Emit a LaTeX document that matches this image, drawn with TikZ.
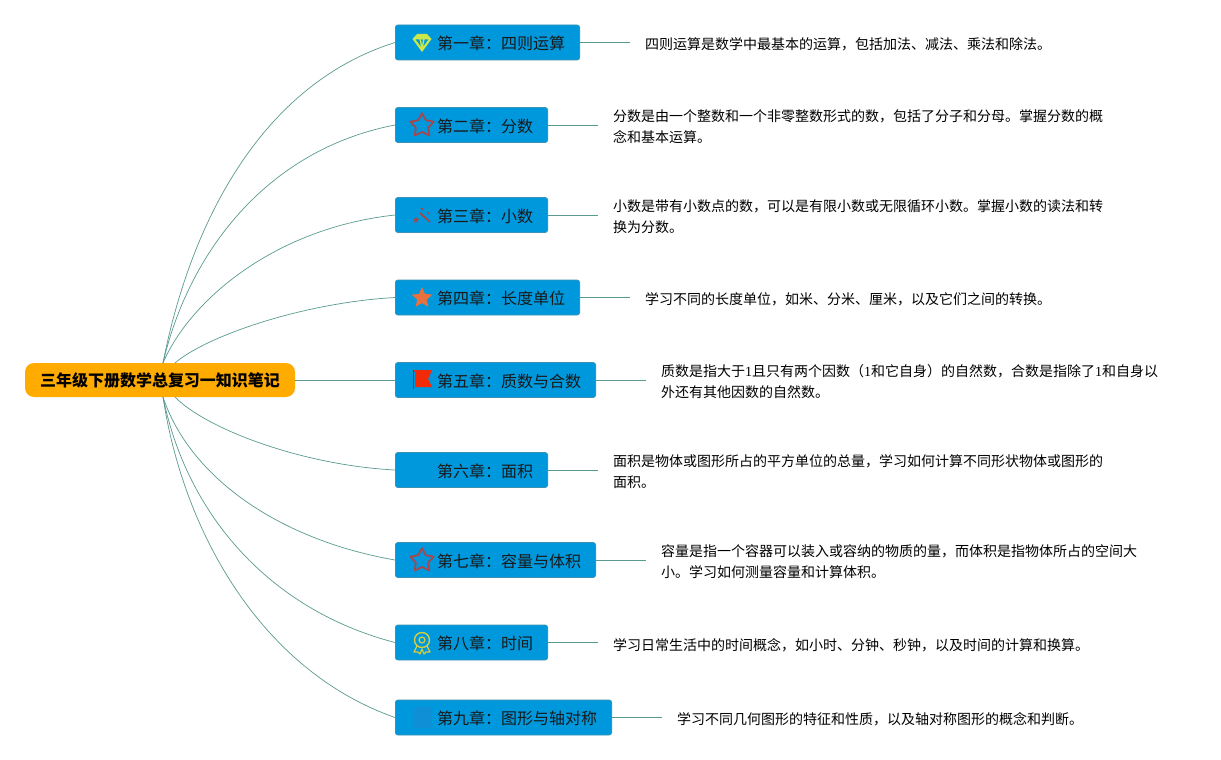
\documentclass[tikz,border=0pt]{standalone}
\usepackage{fontspec}
\setmainfont{Noto Sans CJK SC}
\newfontfamily\numf{Liberation Serif}
\newcommand{\fc}{\symbol{"FF1A}}
\newcommand{\fd}{\symbol{"FF0C}}
\newcommand{\fl}{\symbol{"FF08}}
\newcommand{\fr}{\symbol{"FF09}}
\tikzset{
  link/.style={draw=linkc,line width=0.7pt},
  chap/.style={draw=boxb,line width=0.8pt,fill=boxc,rounded corners=2.5pt,minimum height=35pt,inner sep=0pt},
  chaptext/.style={anchor=west,inner sep=0pt,text=black!90,font=\fontsize{16}{20}\selectfont},
  note/.style={anchor=west,align=left,inner xsep=15pt,inner ysep=0pt,text=black,font=\fontsize{14}{21}\selectfont},
  rootbox/.style={fill=rootc,rounded corners=9pt,minimum width=270pt,minimum height=34pt,inner sep=0pt,font=\fontsize{16}{20}\selectfont\bfseries}
}
\definecolor{linkc}{HTML}{5A9A90}
\definecolor{boxc}{HTML}{0098DC}
\definecolor{boxb}{HTML}{3A93B4}
\definecolor{rootc}{HTML}{FFAB00}
\definecolor{gemc}{HTML}{CBE84A}
\definecolor{starc}{HTML}{A5474F}
\definecolor{wandc}{HTML}{B2403C}
\definecolor{orangec}{HTML}{E8703C}
\definecolor{flagc}{HTML}{F22A08}
\definecolor{medalc}{HTML}{D6CC40}
\definecolor{blueicon}{HTML}{1E88D0}
\newcommand{\starpath}[2]{(270:#1) -- (306:#2) -- (342:#1) -- (18:#2) -- (54:#1) -- (90:#2) -- (126:#1) -- (162:#2) -- (198:#1) -- (234:#2) -- cycle}
\newcommand{\chapbox}[5]{% name, left, right, centre y, text
  \node[chap,minimum width={(#3-#2-0.8)*1pt},anchor=west] (#1) at (#2,#4) {};
  \node[chaptext] (#1t) at (437,#4+1.3) {#5};
}
\begin{document}
\begin{tikzpicture}[x=1pt,y=-1pt]
\useasboundingbox (0,0) rectangle (1221,760);
\fill[white] (0,0) rectangle (1221,760);
% root
\node[rootbox] (root) at (160,380) {三年级下册数学总复习一知识笔记};
\coordinate (rt) at (163,363);
\coordinate (rb) at (163,397);
\coordinate (rt4) at (175,363);
\coordinate (rb6) at (175,397);
% chapter boxes
\chapbox{c1}{395}{580}{42.5}{第一章\fc 四则运算}
\chapbox{c2}{395}{548}{125}{第二章\fc 分数}
\chapbox{c3}{395}{548}{215}{第三章\fc 小数}
\chapbox{c4}{395}{580}{297.5}{第四章\fc 长度单位}
\chapbox{c5}{395}{596}{380}{第五章\fc 质数与合数}
\chapbox{c6}{395}{548}{470}{第六章\fc 面积}
\chapbox{c7}{395}{596}{560}{第七章\fc 容量与体积}
\chapbox{c8}{395}{548}{642.5}{第八章\fc 时间}
\chapbox{c9}{395}{612}{717.5}{第九章\fc 图形与轴对称}
% notes
\node[note] (n1) at (630,44.5) {四则运算是数学中最基本的运算\fd 包括加法、减法、乘法和除法。};
\node[note] (n2) at (598,126.5) {分数是由一个整数和一个非零整数形式的数\fd 包括了分子和分母。掌握分数的概\\念和基本运算。};
\node[note] (n3) at (598,216.5) {小数是带有小数点的数\fd 可以是有限小数或无限循环小数。掌握小数的读法和转\\换为分数。};
\node[note] (n4) at (630,299.5) {学习不同的长度单位\fd 如米、分米、厘米\fd 以及它们之间的转换。};
\node[note] (n5) at (646,381.5) {质数是指大于{\numf 1}且只有两个因数\fl{\numf 1}和它自身\fr 的自然数\fd 合数是指除了{\numf 1}和自身以\\外还有其他因数的自然数。};
\node[note] (n6) at (598,471.5) {面积是物体或图形所占的平方单位的总量\fd 学习如何计算不同形状物体或图形的\\面积。};
\node[note] (n7) at (646,561.5) {容量是指一个容器可以装入或容纳的物质的量\fd 而体积是指物体所占的空间大\\小。学习如何测量容量和计算体积。};
\node[note] (n8) at (598,645) {学习日常生活中的时间概念\fd 如小时、分钟、秒钟\fd 以及时间的计算和换算。};
\node[note] (n9) at (662,719.5) {学习不同几何图形的特征和性质\fd 以及轴对称图形的概念和判断。};
% connectors
\draw[link] (rt) .. controls (190,225) and (260,85) .. (c1.west);
\draw[link] (rt) .. controls (188,255) and (265,150) .. (c2.west);
\draw[link] (rt) .. controls (190,300) and (275,228) .. (c3.west);
\draw[link] (rt4) .. controls (205,337) and (300,303) .. (c4.west);
\draw[link] (root.east) -- (c5.west);
\draw[link] (rb6) .. controls (205,428) and (300,465) .. (c6.west);
\draw[link] (rb) .. controls (190,478) and (280,540) .. (c7.west);
\draw[link] (rb) .. controls (187,515) and (270,610) .. (c8.west);
\draw[link] (rb) .. controls (183,530) and (260,670) .. (c9.west);
\foreach \i in {1,...,9} {\draw[link] (c\i.east) -- (c\i.east -| n\i.west);}
% icons
\begin{scope}[shift={(422,42.5)}]
  \fill[gemc,even odd rule] (-9.5,-3.5) -- (-5,-8.5) -- (5,-8.5) -- (9.5,-3.5) -- (0,9.5) -- cycle
    (-6.5,-3) -- (-2.5,-3) -- (-1,4.5) -- cycle (6.5,-3) -- (2.5,-3) -- (1,4.5) -- cycle (-1,-3) -- (1,-3) -- (0,3) -- cycle;
\end{scope}
\begin{scope}[shift={(422,125.5)}]
  \draw[starc,line width=1.8pt,line join=round] \starpath{12.3}{6.5};
\end{scope}
\begin{scope}[shift={(422,560.5)}]
  \draw[starc,line width=1.8pt,line join=round] \starpath{12.3}{6.5};
\end{scope}
\begin{scope}[shift={(421,216)}]
  \draw[wandc,line width=1.6pt] (-1,-3) -- (9,6);
  \begin{scope}[shift={(-5,4)}]\fill[wandc] \starpath{3.5}{1.3};\end{scope}
  \begin{scope}[shift={(1,-7)}]\fill[wandc] \starpath{1.6}{.7};\end{scope}
  \begin{scope}[shift={(7,-3)}]\fill[wandc] \starpath{1.4}{.6};\end{scope}
\end{scope}
\begin{scope}[shift={(422,298)}]
  \fill[orangec] \starpath{11}{5};
\end{scope}
\fill[flagc] (413,370) -- (432,370) -- (428,379) -- (432,387) -- (415,387) -- (415,372) -- cycle;
\draw[flagc!70!black,line width=0.8pt] (413.5,370) -- (413.5,389);
\begin{scope}[shift={(422,640)}]
  \draw[medalc,line width=1.4pt] (0,0) circle (7.5);
  \draw[medalc,line width=1.2pt] (0,0) circle (3);
  \draw[medalc,line width=1.2pt,line join=round] (-5,6) -- (-8,12) -- (-4,12) -- (-2,14) -- (0,9) -- (2,14) -- (4,12) -- (8,12) -- (5,6);
\end{scope}
\fill[blueicon,opacity=.5] (413,707) rectangle (431,728);
\end{tikzpicture}
\end{document}
